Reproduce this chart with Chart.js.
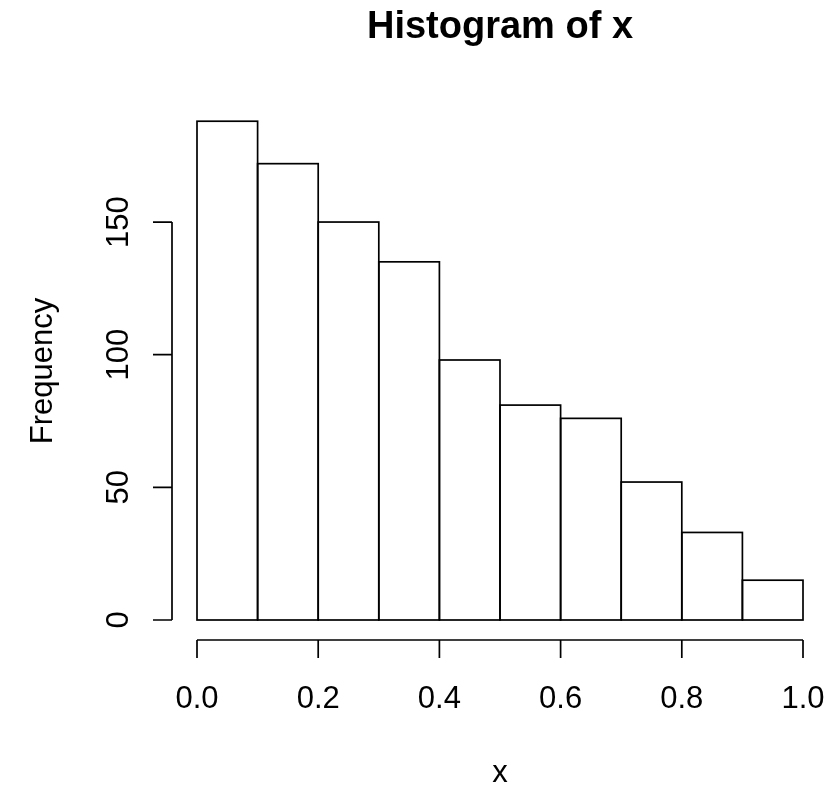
<!DOCTYPE html>
<html>
<head>
<meta charset="utf-8">
<script src="https://cdn.jsdelivr.net/npm/chart.js@4.4.1/dist/chart.umd.min.js"></script>
<style>
    html, body { margin: 0; padding: 0; background: #fff; }
    #wrap { width: 838px; height: 791px; }
</style>
</head>
<body>
<div id="wrap"><canvas id="grafico"></canvas></div>
<script>
// dados do histograma
const inicioClasses = [0.0, 0.1, 0.2, 0.3, 0.4, 0.5, 0.6, 0.7, 0.8, 0.9];
const larguraClasse = 0.1;
const frequencias = [188, 172, 150, 135, 98, 81, 76, 52, 33, 15];

const xTicks = [0, 0.2, 0.4, 0.6, 0.8, 1.0];
const xTickLabels = ['0.0', '0.2', '0.4', '0.6', '0.8', '1.0'];
const yTicks = [0, 50, 100, 150];
const yTickLabels = ['0', '50', '100', '150'];

const titulo = 'Histogram of x';
const tituloX = 'x';
const tituloY = 'Frequency';

const FONTE = "'Liberation Sans', Arial, sans-serif";

// eixos no estilo do R (afastados da área do gráfico)
const eixosR = {
    id: 'eixosR',
    afterDatasetsDraw(chart) {
        const { ctx, chartArea } = chart;
        const sx = chart.scales.x, sy = chart.scales.y;
        ctx.save();
        ctx.strokeStyle = '#000';
        ctx.fillStyle = '#000';
        ctx.lineWidth = 1.7;

        // contorno das barras
        const meta = chart.getDatasetMeta(0);
        meta.data.forEach(b => {
            const { x, y, base, width } = b.getProps(['x', 'y', 'base', 'width'], true);
            ctx.strokeRect(x - width / 2, y, width, base - y);
        });

        // eixo x
        const yEixo = chartArea.bottom + 20;
        ctx.beginPath();
        ctx.moveTo(sx.getPixelForValue(xTicks[0]), yEixo);
        ctx.lineTo(sx.getPixelForValue(xTicks[xTicks.length - 1]), yEixo);
        xTicks.forEach(t => {
            const px = sx.getPixelForValue(t);
            ctx.moveTo(px, yEixo);
            ctx.lineTo(px, yEixo + 18);
        });
        ctx.stroke();
        ctx.font = '31px ' + FONTE;
        ctx.textAlign = 'center';
        ctx.textBaseline = 'alphabetic';
        xTicks.forEach((t, i) => ctx.fillText(xTickLabels[i], sx.getPixelForValue(t), 708));

        // eixo y
        const xEixo = chartArea.left - 25;
        ctx.beginPath();
        ctx.moveTo(xEixo, sy.getPixelForValue(yTicks[0]));
        ctx.lineTo(xEixo, sy.getPixelForValue(yTicks[yTicks.length - 1]));
        yTicks.forEach(t => {
            const py = sy.getPixelForValue(t);
            ctx.moveTo(xEixo, py);
            ctx.lineTo(xEixo - 19, py);
        });
        ctx.stroke();
        yTicks.forEach((t, i) => {
            ctx.save();
            ctx.translate(128, sy.getPixelForValue(t));
            ctx.rotate(-Math.PI / 2);
            ctx.fillText(yTickLabels[i], 0, 0);
            ctx.restore();
        });

        // títulos (centrados na região do gráfico, como no R)
        const centroX = (chartArea.left + chartArea.right) / 2;
        const centroY = (chartArea.top + chartArea.bottom) / 2 + 11;
        ctx.fillText(tituloX, centroX, 782);
        ctx.save();
        ctx.translate(52, centroY);
        ctx.rotate(-Math.PI / 2);
        ctx.fillText(tituloY, 0, 0);
        ctx.restore();

        ctx.font = 'bold 38px ' + FONTE;
        ctx.fillText(titulo, centroX, 38);
        ctx.restore();
    }
};

new Chart(document.getElementById('grafico').getContext('2d'), {
    type: 'bar',
    data: {
        datasets: [{
            data: inicioClasses.map((x0, i) => ({ x: x0 + larguraClasse / 2, y: frequencias[i] })),
            backgroundColor: '#fff',
            borderWidth: 0,
            barPercentage: 1,
            categoryPercentage: 1
        }]
    },
    options: {
        responsive: true, maintainAspectRatio: false,
        animation: false,
        layout: { padding: { left: 197, right: 35, top: 100, bottom: 171 } },
        scales: {
            x: { type: 'linear', min: 0, max: 1, offset: false, display: false },
            y: { min: 0, max: 196, display: false }
        },
        plugins: { legend: { display: false }, tooltip: { enabled: false } }
    },
    plugins: [eixosR]
});
</script>
</body>
</html>
